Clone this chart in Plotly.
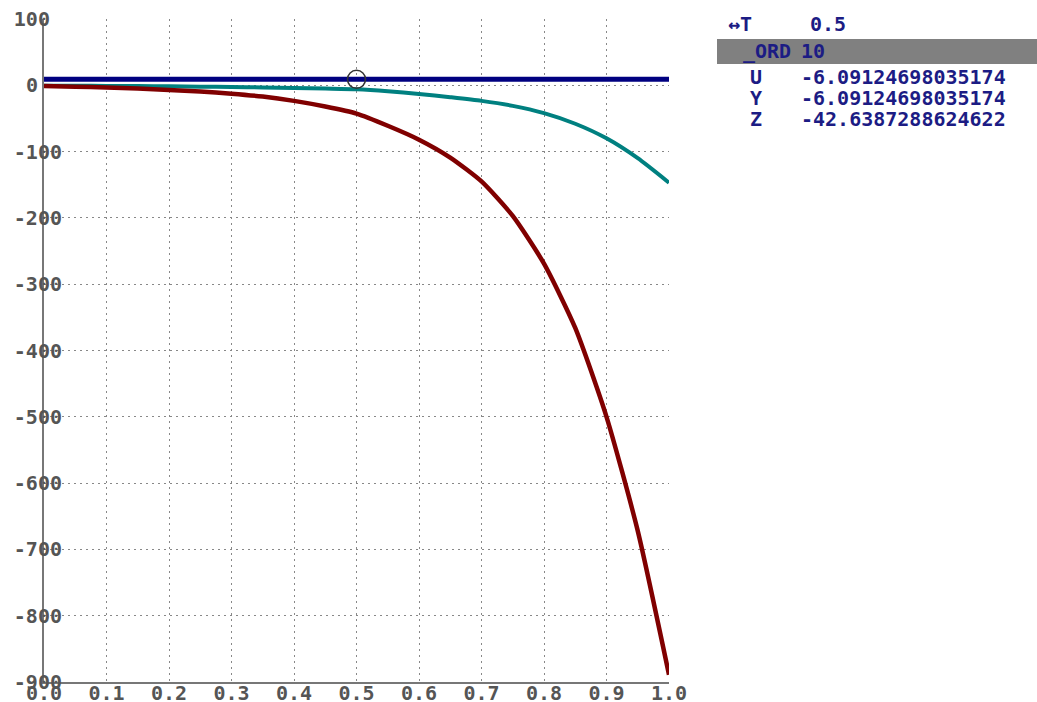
import plotly.graph_objects as go

# ---- data ----
t_vals = [0.0, 0.05, 0.1, 0.15, 0.2, 0.25, 0.3, 0.35, 0.4, 0.45, 0.5,
          0.55, 0.6, 0.65, 0.7, 0.75, 0.8, 0.85, 0.9, 0.95, 1.0]
y_vals = [-0.5, -0.7, -1.0, -1.2, -1.5, -2.0, -2.5, -3.2, -4.0, -5.0, -6.09,
          -9.0, -13.0, -18.0, -23.5, -31.0, -42.0, -58.0, -80.0, -110.0, -147.0]
z_vals = [-1.0, -2.0, -3.5, -5.0, -7.0, -9.5, -12.6, -17.0, -23.5, -32.0, -42.64,
          -61.0, -82.0, -109.0, -145.0, -197.0, -269.0, -366.0, -500.0, -672.0, -889.0]
blue_t = [0.0, 1.0]
blue_vals = [9.0, 9.0]
cursor_t = [0.5]
cursor_v = [9.0]

x_ticks = [0.0, 0.1, 0.2, 0.3, 0.4, 0.5, 0.6, 0.7, 0.8, 0.9, 1.0]
x_tick_text = ["0.0", "0.1", "0.2", "0.3", "0.4", "0.5", "0.6", "0.7", "0.8", "0.9", "1.0"]
y_ticks = [100, 0, -100, -200, -300, -400, -500, -600, -700, -800, -900]
y_tick_text = ["100\u00a0", "0\u00a0\u00a0", "-100", "-200", "-300", "-400", "-500",
               "-600", "-700", "-800", "-900"]

panel_names = ["↔T", "_ORD", "U", "Y", "Z"]
panel_values = ["0.5", "10", "-6.09124698035174", "-6.09124698035174", "-42.6387288624622"]

# ---- styling ----
NAVY = "#000080"
TEAL = "#008080"
DRED = "#800000"
TXT = "#1c1c84"
W, H = 1037, 702
L, R, T, B = 44, 368, 19, 20
pw, ph = W - L - R, H - T - B

def px_x(p):
    return (p - L) / pw

def px_y(p):
    return (H - B - p) / ph

fig = go.Figure()
fig.add_trace(go.Scatter(x=t_vals, y=y_vals, mode="lines",
                         line=dict(color=TEAL, width=4, shape="spline", smoothing=0.6),
                         hoverinfo="skip"))
fig.add_trace(go.Scatter(x=t_vals, y=z_vals, mode="lines",
                         line=dict(color=DRED, width=4.5, shape="spline", smoothing=0.6),
                         hoverinfo="skip"))
fig.add_trace(go.Scatter(x=blue_t, y=blue_vals, mode="lines",
                         line=dict(color=NAVY, width=5), hoverinfo="skip"))
fig.add_trace(go.Scatter(x=cursor_t, y=cursor_v, mode="markers",
                         marker=dict(symbol="circle-open", size=18,
                                     line=dict(color="#333333", width=1.5),
                                     color="#333333"),
                         hoverinfo="skip"))

tickfont = dict(family="DejaVu Sans Mono", size=20, color="#555555", weight="bold")

fig.update_xaxes(range=[0, 1], tickvals=x_ticks, ticktext=x_tick_text,
                 showgrid=True, gridcolor="#888888", griddash="2px,4px", gridwidth=1,
                 zeroline=False, showline=True, linecolor="#777777", linewidth=2,
                 ticks="", tickfont=tickfont, automargin=False, fixedrange=True,
                 ticklabelstandoff=-8)
fig.update_yaxes(range=[-900, 100], tickvals=y_ticks, ticktext=y_tick_text,
                 showgrid=True, gridcolor="#888888", griddash="2px,4px", gridwidth=1,
                 zeroline=False, showline=True, linecolor="#777777", linewidth=2,
                 ticks="", tickfont=tickfont, automargin=False, fixedrange=True,
                 ticklabelstandoff=-24)

# gray highlight bar in the side panel
fig.add_shape(type="rect", xref="paper", yref="paper",
              x0=px_x(717), x1=px_x(1037), y0=px_y(64), y1=px_y(39),
              fillcolor="#808080", line=dict(width=0), layer="below")

row_y = [24, 51, 77, 98, 119]
name_x = [727, 742, 749, 749, 749]
val_x = [809, 800, 800, 800, 800]
pfont = dict(family="DejaVu Sans Mono", size=20, color=TXT, weight="bold")
for i in range(len(panel_names)):
    fig.add_annotation(x=px_x(name_x[i]), y=px_y(row_y[i]), xref="paper", yref="paper",
                       text=panel_names[i], showarrow=False, xanchor="left",
                       yanchor="middle", font=pfont, borderpad=0)
    fig.add_annotation(x=px_x(val_x[i]), y=px_y(row_y[i]), xref="paper", yref="paper",
                       text=panel_values[i], showarrow=False, xanchor="left",
                       yanchor="middle", font=pfont, borderpad=0)

fig.update_layout(width=W, height=H, margin=dict(l=L, r=R, t=T, b=B),
                  paper_bgcolor="white", plot_bgcolor="white", showlegend=False)

fig.write_html("out.html", config={"displayModeBar": False},
               post_script="document.body.style.margin='0';document.body.style.overflow='hidden';")
